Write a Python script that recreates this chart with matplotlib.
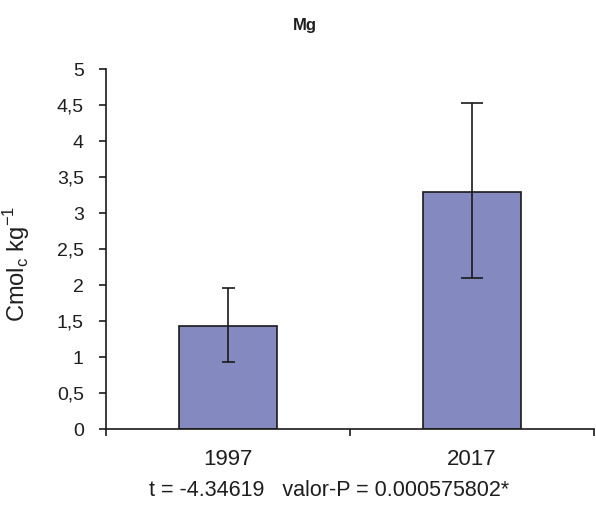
import matplotlib
matplotlib.use('Agg')
import matplotlib.pyplot as plt

years = ['1997', '2017']
means = [1.44, 3.30]
err_low = [0.50, 1.20]
err_high = [0.52, 1.23]
stats_text = 't = -4.34619   valor-P = 0.000575802*'

plt.rcParams['font.family'] = ['Liberation Sans', 'DejaVu Sans']

fig = plt.figure(figsize=(5.96, 5.08), dpi=100)
ax = fig.add_axes([0.178, 0.155, 0.819, 0.709])

x = list(range(len(years)))
ax.bar(x, means, width=0.4, color='#8489c0', edgecolor='#1a1a1a', linewidth=1.2, zorder=2)

# caps look a bit different on the two bars in the original
caps = [6.5, 11]
for i in x:
    ax.errorbar(i, means[i], yerr=[[err_low[i]], [err_high[i]]], fmt='none',
                ecolor='#1a1a1a', elinewidth=1.2, capsize=caps[i] * 0.72,
                capthick=1.2, zorder=3)

ax.set_xlim(-0.5, 1.5)
ax.set_ylim(0, 5)
ax.set_yticks([i * 0.5 for i in range(11)])
ax.set_yticklabels(['0', '0,5', '1', '1,5', '2', '2,5', '3', '3,5', '4', '4,5', '5'])
ax.set_xticks(x)
ax.set_xticklabels(years)
ax.set_xticks([-0.5, 0.5, 1.5], minor=True)

ax.spines['top'].set_visible(False)
ax.spines['right'].set_visible(False)
for s in ['left', 'bottom']:
    ax.spines[s].set_color('#1a1a1a')
    ax.spines[s].set_linewidth(1.2)

ax.tick_params(axis='y', direction='out', length=5, width=1.2, colors='#1a1a1a',
               labelsize=14, labelcolor='#1e1e1e', pad=11)
ax.tick_params(axis='x', which='major', length=0, labelsize=16, labelcolor='#1e1e1e', pad=14)
ax.tick_params(axis='x', which='minor', direction='out', length=5, width=1.2, colors='#1a1a1a')

ax.set_ylabel('Cmol$_\\mathregular{c}$ kg$^{\\mathregular{-1}}$', fontsize=17, color='#1e1e1e')
ax.yaxis.set_label_coords(-0.152, 0.46)
fig.text(0.512, 0.95, 'Mg', fontsize=12, fontweight='bold', ha='center', va='center', color='#1e1e1e')
fig.text(0.552, 0.035, stats_text, fontsize=15.5, ha='center', va='center', color='#1e1e1e')

fig.savefig('out.png', dpi=100)
